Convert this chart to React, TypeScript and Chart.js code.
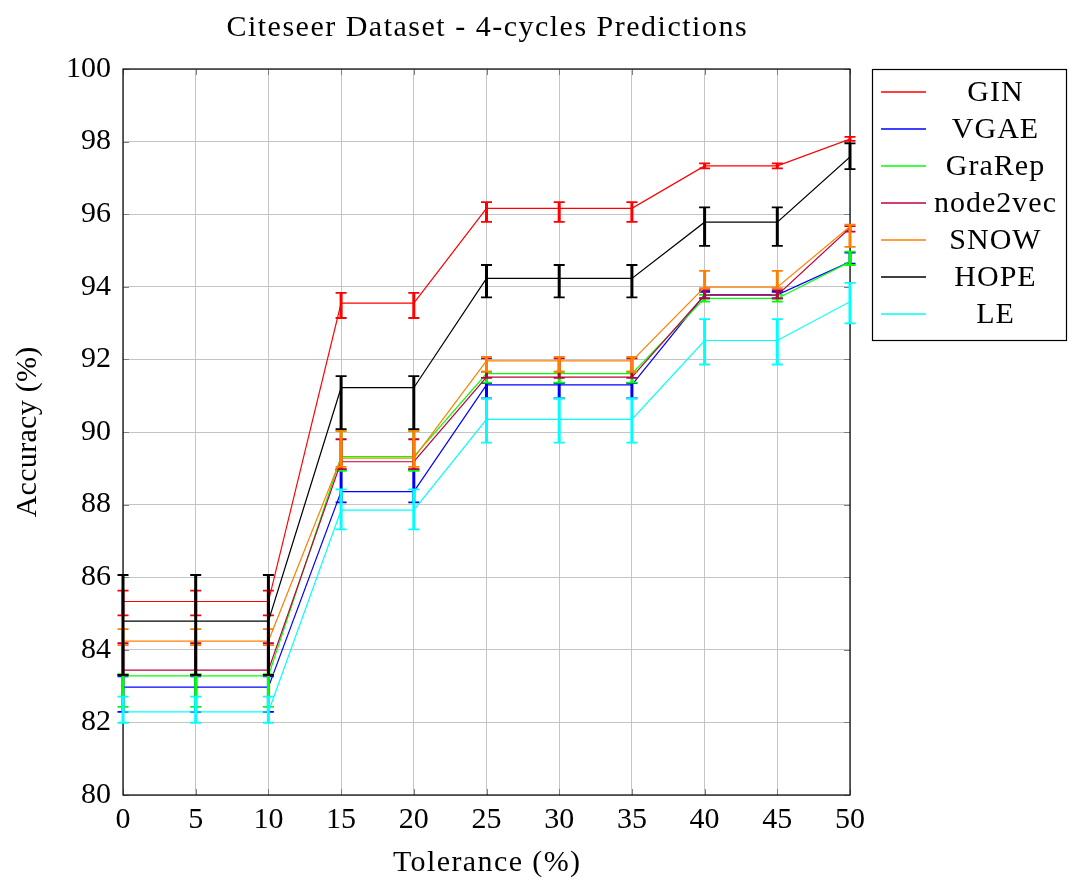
import React, { useEffect, useRef } from "react";
import { Chart, registerables } from "chart.js";

Chart.register(...registerables);

// Tolerance levels (x axis)
const tolerance = [0, 5, 10, 15, 20, 25, 30, 35, 40, 45, 50];

// Mean accuracy (%) per method, with upper / lower error extents
const ginAcc = [85.33, 85.33, 85.33, 93.55, 93.55, 96.16, 96.16, 96.16, 97.33, 97.33, 98.07];
const ginErrUp = [0.3, 0.3, 0.3, 0.28, 0.28, 0.17, 0.17, 0.17, 0.07, 0.07, 0.06];
const ginErrDown = [0.38, 0.38, 0.38, 0.41, 0.41, 0.37, 0.37, 0.37, 0.07, 0.07, 0.05];

const vgaeAcc = [82.97, 82.97, 82.97, 88.36, 88.36, 91.3, 91.3, 91.3, 93.78, 93.78, 94.69];
const vgaeErrUp = [0.3, 0.3, 0.3, 0.6, 0.6, 0.05, 0.05, 0.05, 0.08, 0.08, 0.25];
const vgaeErrDown = [0.68, 0.68, 0.68, 0.3, 0.3, 0.37, 0.37, 0.37, 0.1, 0.1, 0.05];

const grarepAcc = [83.28, 83.28, 83.28, 89.32, 89.32, 91.61, 91.61, 91.61, 93.68, 93.68, 94.69];
const grarepErrUp = [0.05, 0.05, 0.05, 0.71, 0.71, 0.05, 0.05, 0.05, 0.1, 0.1, 0.28];
const grarepErrDown = [0.85, 0.85, 0.85, 0.39, 0.39, 0.25, 0.25, 0.25, 0.09, 0.09, 0.09];

const node2vecAcc = [83.44, 83.44, 83.44, 89.18, 89.18, 91.51, 91.51, 91.51, 93.77, 93.77, 95.62];
const node2vecErrUp = [0.74, 0.74, 0.74, 0.62, 0.62, 0.52, 0.52, 0.52, 0.14, 0.14, 0.05];
const node2vecErrDown = [0.13, 0.13, 0.13, 0.2, 0.2, 0.02, 0.02, 0.02, 0.09, 0.09, 0.1];

const snowAcc = [84.24, 84.24, 84.24, 89.28, 89.28, 91.96, 91.96, 91.96, 93.99, 93.99, 95.66];
const snowErrUp = [0.33, 0.33, 0.33, 0.75, 0.75, 0.11, 0.11, 0.11, 0.45, 0.45, 0.05];
const snowErrDown = [0.11, 0.11, 0.11, 0.24, 0.24, 0.3, 0.3, 0.3, 0.03, 0.03, 0.56];

const hopeAcc = [84.79, 84.79, 84.79, 91.22, 91.22, 94.23, 94.23, 94.23, 95.78, 95.78, 97.58];
const hopeErrUp = [1.27, 1.27, 1.27, 0.32, 0.32, 0.37, 0.37, 0.37, 0.41, 0.41, 0.37];
const hopeErrDown = [1.48, 1.48, 1.48, 1.14, 1.14, 0.52, 0.52, 0.52, 0.65, 0.65, 0.34];

const leAcc = [82.29, 82.29, 82.29, 87.85, 87.85, 90.35, 90.35, 90.35, 92.52, 92.52, 93.59];
const leErrUp = [0.42, 0.42, 0.42, 0.57, 0.57, 0.58, 0.58, 0.58, 0.59, 0.59, 0.52];
const leErrDown = [0.3, 0.3, 0.3, 0.53, 0.53, 0.64, 0.64, 0.64, 0.66, 0.66, 0.6];

const seriesNames = ["GIN", "VGAE", "GraRep", "node2vec", "SNOW", "HOPE", "LE"];
const seriesColors = ["#ff0000", "#0000ff", "#00ff00", "#bf0040", "#ff8000", "#000000", "#00ffff"];
const seriesValues = [ginAcc, vgaeAcc, grarepAcc, node2vecAcc, snowAcc, hopeAcc, leAcc];
const seriesErrUp = [ginErrUp, vgaeErrUp, grarepErrUp, node2vecErrUp, snowErrUp, hopeErrUp, leErrUp];
const seriesErrDown = [ginErrDown, vgaeErrDown, grarepErrDown, node2vecErrDown, snowErrDown, hopeErrDown, leErrDown];

const chartTitle = "Citeseer Dataset - 4-cycles Predictions";
const xTitle = "Tolerance (%)";
const yTitle = "Accuracy (%)";

const FONT = "'Liberation Serif', 'Times New Roman', serif";
const W = 1068;
const H = 881;

// Draws each dataset's error bars right after its line
const errorBarPlugin = {
  id: "errorBars",
  afterDatasetDraw(chart: any, args: any) {
    const ds: any = chart.data.datasets[args.index];
    const yScale = chart.scales.y;
    const ctx = chart.ctx;
    ctx.save();
    ctx.strokeStyle = ds.borderColor;
    args.meta.data.forEach((pt: any, i: number) => {
      const v = ds.data[i].y;
      const top = yScale.getPixelForValue(v + ds.errUp[i]);
      const bot = yScale.getPixelForValue(v - ds.errDown[i]);
      ctx.lineWidth = 3;
      ctx.beginPath();
      ctx.moveTo(pt.x, top);
      ctx.lineTo(pt.x, bot);
      ctx.stroke();
      ctx.lineWidth = 1.8;
      ctx.beginPath();
      ctx.moveTo(pt.x - 5.5, top);
      ctx.lineTo(pt.x + 5.5, top);
      ctx.moveTo(pt.x - 5.5, bot);
      ctx.lineTo(pt.x + 5.5, bot);
      ctx.stroke();
    });
    ctx.restore();
  },
};

function spacedText(ctx: any, text: string, x: number, y: number, spacing: number) {
  ctx.letterSpacing = `${spacing}px`;
  ctx.fillText(text, x + spacing / 2, y);
  ctx.letterSpacing = "0px";
}

// Axis frame, inner tick marks, titles and the boxed legend
const decorPlugin = {
  id: "decor",
  beforeDatasetsDraw(chart: any) {
    const { ctx, chartArea: a, scales } = chart;
    ctx.save();
    ctx.strokeStyle = "#7f7f7f";
    ctx.lineWidth = 1;
    ctx.beginPath();
    scales.x.ticks.forEach((t: any) => {
      const px = Math.round(scales.x.getPixelForValue(t.value)) + 0.5;
      ctx.moveTo(px, a.bottom);
      ctx.lineTo(px, a.bottom - 6);
      ctx.moveTo(px, a.top);
      ctx.lineTo(px, a.top + 6);
    });
    scales.y.ticks.forEach((t: any) => {
      const py = Math.round(scales.y.getPixelForValue(t.value)) + 0.5;
      ctx.moveTo(a.left, py);
      ctx.lineTo(a.left + 6, py);
      ctx.moveTo(a.right, py);
      ctx.lineTo(a.right - 6, py);
    });
    ctx.stroke();
    ctx.strokeStyle = "#000000";
    ctx.lineWidth = 1.2;
    ctx.strokeRect(a.left, a.top, a.right - a.left, a.bottom - a.top);
    ctx.restore();
  },
  afterDraw(chart: any) {
    const { ctx, chartArea: a } = chart;
    const cx = (a.left + a.right) / 2;
    const cy = (a.top + a.bottom) / 2;
    ctx.save();
    ctx.fillStyle = "#000000";
    ctx.textAlign = "center";
    ctx.textBaseline = "middle";

    ctx.font = `30px ${FONT}`;
    spacedText(ctx, chartTitle, cx, 28, 1.5);

    ctx.font = `30px ${FONT}`;
    spacedText(ctx, xTitle, cx, 863, 1.4);

    ctx.save();
    ctx.translate(28, cy);
    ctx.rotate(-Math.PI / 2);
    spacedText(ctx, yTitle, 0, 0, 0.3);
    ctx.restore();

    // legend
    const lx = 872.5;
    const ly = 69.5;
    const lw = 194;
    const lh = 271;
    ctx.fillStyle = "#ffffff";
    ctx.fillRect(lx, ly, lw, lh);
    ctx.strokeStyle = "#000000";
    ctx.lineWidth = 1.2;
    ctx.strokeRect(lx, ly, lw, lh);
    ctx.font = `30px ${FONT}`;
    ctx.fillStyle = "#000000";
    seriesNames.forEach((name, i) => {
      const y = 92 + i * 37;
      ctx.strokeStyle = seriesColors[i];
      ctx.lineWidth = 1.6;
      ctx.beginPath();
      ctx.moveTo(881, y);
      ctx.lineTo(926, y);
      ctx.stroke();
      spacedText(ctx, name, 995, y + 1, 1);
    });
    ctx.restore();
  },
};

export default function App() {
  const canvasRef = useRef<HTMLCanvasElement | null>(null);

  useEffect(() => {
    const canvas = canvasRef.current;
    if (!canvas) return;

    const datasets = seriesNames.map((name, i) => ({
      label: name,
      data: tolerance.map((t, j) => ({ x: t, y: seriesValues[i][j] })),
      errUp: seriesErrUp[i],
      errDown: seriesErrDown[i],
      borderColor: seriesColors[i],
      backgroundColor: seriesColors[i],
      borderWidth: 1.2,
      pointRadius: 0,
      tension: 0,
      fill: false,
      order: seriesNames.length - i,
    }));

    const chart = new Chart(canvas, {
      type: "line",
      data: { datasets: datasets as any },
      options: {
        animation: false,
        responsive: false,
        devicePixelRatio: 1,
        layout: { padding: { top: 69, right: 218, left: 0, bottom: 0 } },
        plugins: {
          legend: { display: false },
          title: { display: false },
          tooltip: { enabled: false },
        },
        scales: {
          x: {
            type: "linear",
            min: 0,
            max: 50,
            afterFit: (s: any) => {
              s.height = H - 795;
            },
            ticks: {
              stepSize: 5,
              autoSkip: false,
              maxRotation: 0,
              padding: 7,
              color: "#000000",
              font: { family: FONT, size: 30 },
            },
            grid: { color: "#c4c4c4", lineWidth: 1, drawTicks: false },
            border: { display: false },
          },
          y: {
            type: "linear",
            min: 80,
            max: 100,
            afterFit: (s: any) => {
              s.width = 123;
            },
            ticks: {
              stepSize: 2,
              autoSkip: false,
              padding: 12,
              color: "#000000",
              font: { family: FONT, size: 30 },
            },
            grid: { color: "#c4c4c4", lineWidth: 1, drawTicks: false },
            border: { display: false },
          },
        },
      },
      plugins: [decorPlugin, errorBarPlugin],
    });

    return () => chart.destroy();
  }, []);

  return (
    <div style={{ position: "fixed", left: 0, top: 0, width: W, height: H, background: "#ffffff" }}>
      <canvas ref={canvasRef} width={W} height={H} style={{ width: W, height: H, display: "block" }} />
    </div>
  );
}
